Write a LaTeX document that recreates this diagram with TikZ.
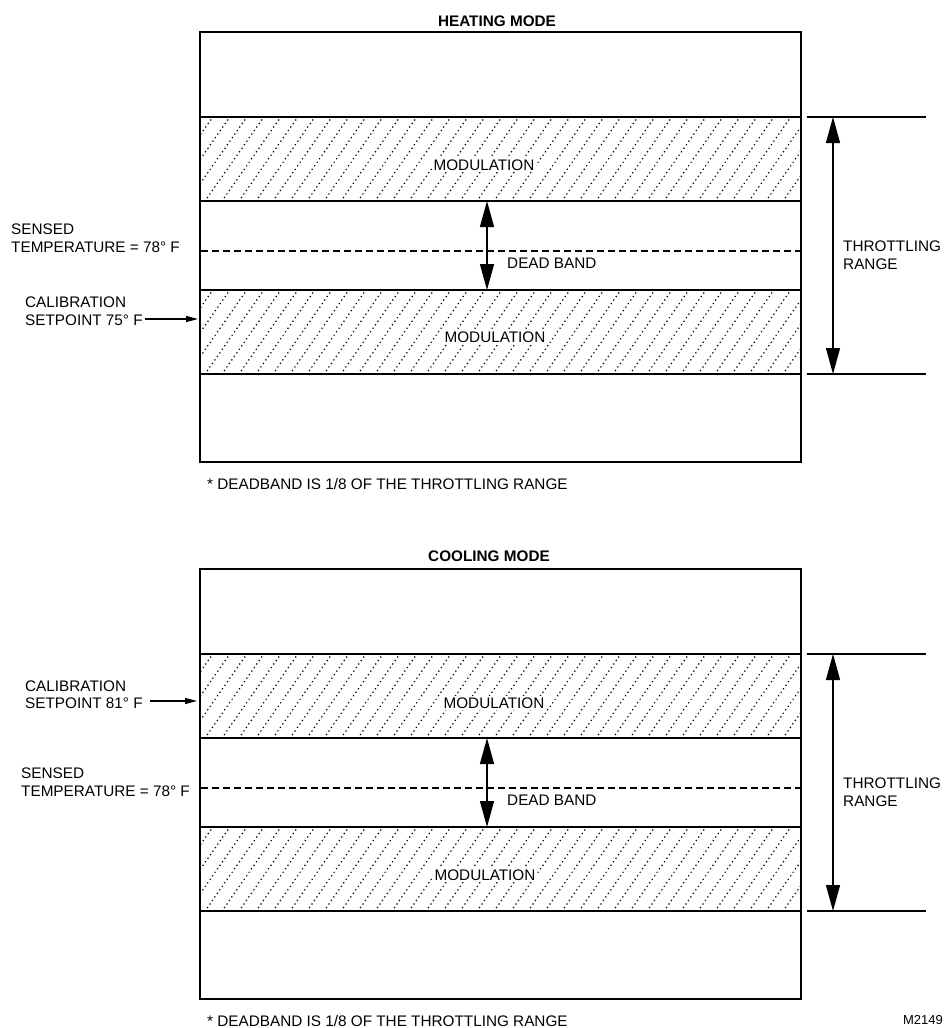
\documentclass[tikz,border=0pt]{standalone}
\usepackage{fontspec}
\setmainfont{Liberation Sans}
\usetikzlibrary{arrows.meta}
\begin{document}
\begin{tikzpicture}[x=1pt,y=-1pt,
  every node/.style={font=\fontsize{15.3}{17.5}\selectfont,inner sep=0pt},
  title/.style={font=\fontsize{15.3}{17.5}\selectfont\bfseries},
  lbl/.style={align=left,anchor=west},
  frame/.style={line width=2.4pt},
  bandedge/.style={line width=1.4pt},
  hatch/.style={line width=1.7pt,dash pattern=on 0pt off 4.3pt,line cap=round},
  sensedline/.style={line width=1.5pt,dash pattern=on 7pt off 4pt},
  bigarrow/.style={line width=1.3pt,{Triangle[length=26pt,width=14pt]}-{Triangle[length=26pt,width=14pt]}},
  smallarrow/.style={line width=1.2pt,-{Triangle[length=12pt,width=6pt]}},
  modlabel/.style={fill=white,inner sep=1.5pt}]
\useasboundingbox (0,0) rectangle (943,1028);

% the two panels share the same bands
\foreach \dy/\mode in {0/heat,537/cool}{
\begin{scope}[shift={(0,\dy)}]
  \foreach \ya/\yb in {117/201,290/374}{
    \begin{scope}
      \clip (200,\ya) rectangle (801,\yb);
      \foreach \x in {120,137,...,820}
        \draw[hatch] (\x,\yb) -- ++({0.7*(\yb-\ya)},{\ya-\yb});
    \end{scope}
    \draw[bandedge] (200,\ya) -- (801,\ya) (200,\yb) -- (801,\yb);
  }
  \draw[frame] (200,32) rectangle (801,462);
  \draw[sensedline] (201,251) -- (800,251);
  % dead band
  \coordinate (db-top-\mode) at (487,201);
  \coordinate (db-bot-\mode) at (487,290);
  \draw[bigarrow] (db-top-\mode) -- (db-bot-\mode);
  % throttling range
  \coordinate (tr-a-\mode) at (807,117);
  \coordinate (tr-b-\mode) at (926,117);
  \coordinate (tr-c-\mode) at (807,374);
  \coordinate (tr-d-\mode) at (926,374);
  \draw[bandedge,line width=1.2pt] (tr-a-\mode) -- (tr-b-\mode) (tr-c-\mode) -- (tr-d-\mode);
  \coordinate (tr-up-\mode) at (833,117);
  \coordinate (tr-dn-\mode) at (833,374);
  \draw[bigarrow] (tr-up-\mode) -- (tr-dn-\mode);
  \node[lbl] (throttle-\mode) at (843,255) {THROTTLING\\RANGE};
  \node[anchor=west] (deadband-\mode) at (507,263) {DEAD BAND};
\end{scope}
}

% heating mode
\node[title] (heat-title) at (497,21) {HEATING MODE};
\node[modlabel] (heat-moda) at (484,165) {MODULATION};
\node[modlabel] (heat-modb) at (495,337) {MODULATION};
\node[lbl] (heat-sensed) at (11,238) {SENSED\\TEMPERATURE = 78° F};
\node[lbl] (heat-calib) at (25,311) {CALIBRATION\\SETPOINT 75° F};
\coordinate (heat-calfrom) at (145,319);
\coordinate (heat-calto) at (198,319);
\draw[smallarrow] (heat-calfrom) -- (heat-calto);
\node[anchor=west] (heat-note) at (207,484) {* DEADBAND IS 1/8 OF THE THROTTLING RANGE};

% cooling mode
\node[title] (cool-title) at (489,556) {COOLING MODE};
\node[modlabel] (cool-moda) at (494,703) {MODULATION};
\node[modlabel] (cool-modb) at (485,875) {MODULATION};
\node[lbl] (cool-calib) at (25,694.5) {CALIBRATION\\SETPOINT 81° F};
\coordinate (cool-calfrom) at (150,701);
\coordinate (cool-calto) at (197,701);
\draw[smallarrow] (cool-calfrom) -- (cool-calto);
\node[lbl] (cool-sensed) at (21,782) {SENSED\\TEMPERATURE = 78° F};
\node[anchor=west] (cool-note) at (207,1021) {* DEADBAND IS 1/8 OF THE THROTTLING RANGE};

\node[anchor=east,font=\fontsize{13}{15}\selectfont] (fig-id) at (943,1020) {M2149};
\end{tikzpicture}
\end{document}
